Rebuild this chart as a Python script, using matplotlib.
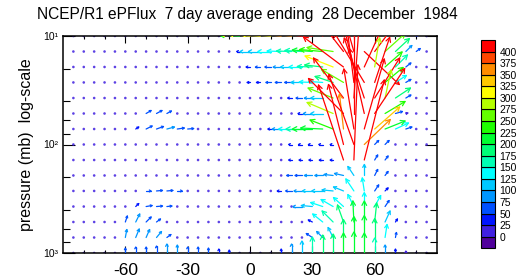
"""EP-flux vectors (NCEP/R1), 7 day mean ending 28 Dec 1984, coloured by magnitude."""
import numpy as np
import matplotlib
matplotlib.use("Agg")
import matplotlib.pyplot as plt
from matplotlib.collections import LineCollection
from matplotlib.colors import ListedColormap, BoundaryNorm
from matplotlib.ticker import FixedLocator, NullFormatter

plt.rcParams["font.family"] = ["Liberation Sans", "DejaVu Sans"]
plt.rcParams["axes.unicode_minus"] = False

# ---- data -----------------------------------------------------------------
lat = [-85, -80, -75, -70, -65, -60, -55, -50, -45, -40, -35, -30, -25, -20,
       -15, -10, -5, 0, 5, 10, 15, 20, 25, 30, 35, 40, 45, 50, 55, 60, 65,
       70, 75, 80, 85]
lev = [10, 13.9, 19.3, 26.8, 37.3, 51.8, 72, 100, 139, 193, 268, 373, 518,
       720, 1000]

# meridional component (+ = northward), one row per level, SH | NH
fy = [
    [0, 0, 0, 0, 0, 0, 0, 0, 0, 0, 0, 0, 0, 0, 0, 0, -200,
     -300, -320, -300, -350, -360, -450, -500, -400, -300, -200, 100, 200, 150, 150, 100, 60, 20, 0],
    [0, 0, 0, 0, 0, 0, 0, 0, 0, 0, 0, 0, 0, 0, 0, 0, -30,
     -100, -120, -130, -140, -150, -170, -200, -230, -260, -350, -200, 350, 300, 200, 140, 60, 40, 10],
    [0, 0, 0, 0, 0, 0, 0, 0, 0, 0, 0, 0, 0, 0, 0, 0, 0,
     -40, -50, -60, -80, -110, -130, -150, -180, -280, -400, -150, 250, 50, 170, 120, 50, 15, 0],
    [0, 0, 0, 0, 0, 0, 0, 0, 0, 0, 0, 0, 0, 0, 0, 0, 0,
     -30, -40, -50, -60, -70, -110, -130, -140, -180, -220, -100, -300, 150, 180, 110, 50, 15, 0],
    [0, 0, 0, 0, 0, 0, 0, 0, 0, 0, 0, 0, 0, 0, 0, 0, 0,
     0, 0, 0, 0, -40, -60, -80, -120, -250, -300, 50, -200, 250, 60, 150, 50, 10, 0],
    [0, 0, 0, 0, 0, 0, 0, 50, 55, 45, 0, 0, 0, 0, 0, 0, 0,
     0, 0, 0, 0, 0, -40, -90, -120, -260, -350, 0, -150, 300, 200, 70, 20, 0, 0],
    [0, 0, 0, 0, 0, 0, 30, 60, 70, 75, 70, 60, 0, 0, 0, 0, 0,
     0, 0, -30, -90, -130, -160, -200, -220, -230, -40, -100, 200, 250, 200, 130, 60, 10, 0],
    [0, 0, 0, 0, 0, 0, 0, 0, 0, 0, 0, 0, 0, 0, 0, 0, 0,
     0, 0, 0, 0, -30, -35, -40, -40, -30, -150, -250, 260, 40, 40, 0, 0, 0, 0],
    [0, 0, 0, 0, 0, 0, 0, 0, 0, 0, 0, 0, 0, 0, 0, 0, 0,
     0, 0, 0, 0, -30, -30, -35, -35, -30, -250, 40, 200, 30, 30, 0, 0, 0, 0],
    [0, 0, 0, 0, 0, 0, 0, 0, 0, 0, 0, 0, 0, 0, 0, 0, 0,
     0, 0, 0, 0, -50, -70, -80, -80, -90, -90, -60, 0, 30, 30, 0, 0, 0, 0],
    [0, 0, 0, 0, 0, 0, 0, 50, 60, 60, 50, 0, 0, 0, 0, 0, 0,
     0, 0, 0, -40, -60, -80, -100, -110, -110, -100, -80, -20, 40, 30, 0, 0, 0, 0],
    [0, 0, 0, 0, 0, 0, 30, 60, 60, 50, 0, 0, 0, 0, 0, 0, 0,
     0, 0, 0, 0, 0, -90, -110, -120, -120, -100, -60, 0, 60, 40, 0, 0, 0, 0],
    [0, 0, 0, 0, 0, 20, 40, 50, 40, 0, 0, 0, 0, 0, 0, 0, 0,
     0, 0, 0, 0, 0, 0, -40, -100, -110, -60, -10, 0, 20, 50, 20, 0, 0, 0],
    [0, 0, 0, 0, 0, 15, 35, 35, 50, 40, 0, 0, 0, 0, 0, 0, 0,
     0, 0, 0, 0, 0, 0, -60, -60, -50, 0, 0, 0, 0, 20, 10, 0, 0, 0],
    [0, 0, 0, 0, 0, 0, 0, 0, 0, 0, 0, 0, 0, 0, 0, 0, 0,
     0, 0, 0, 0, 0, 0, 0, 0, 0, 0, 0, 0, 0, 0, 0, 0, 0, 0],
]

# vertical component (+ = upward)
fz = [
    [0, 0, 0, 0, 0, 0, 0, 0, 0, 0, 0, 0, 0, 0, 0, 0, 10,
     20, 20, 20, 30, 30, 40, 60, 300, 400, 500, 500, 450, 350, 200, 120, 60, 20, 0],
    [0, 0, 0, 0, 0, 0, 0, 0, 0, 0, 0, 0, 0, 0, 0, 0, 0,
     0, 0, 0, 5, 5, 10, 15, 20, 40, 450, 700, -330, 400, 180, 130, 60, 30, 5],
    [0, 0, 0, 0, 0, 0, 0, 0, 0, 0, 0, 0, 0, 0, 0, 0, 0,
     0, 0, 0, 0, 0, 0, 5, 20, 110, 300, 600, 550, 290, 150, 120, 40, 10, 0],
    [0, 0, 0, 0, 0, 0, 0, 0, 0, 0, 0, 0, 0, 0, 0, 0, 0,
     0, 0, 0, 0, 0, 0, 5, 10, 60, 130, 800, 500, 450, 150, 70, 30, 10, 0],
    [0, 0, 0, 0, 0, 0, 0, 0, 0, 0, 0, 0, 0, 0, 0, 0, 0,
     0, 0, 0, 0, 0, 0, 0, 0, 100, 400, 700, 600, 400, 280, 100, 30, 10, 0],
    [0, 0, 0, 0, 0, 0, 0, 30, 30, 25, 0, 0, 0, 0, 0, 0, 0,
     0, 0, 0, 0, 0, 0, 0, 0, 110, 350, 900, 650, 450, 120, 20, 5, 0, 0],
    [0, 0, 0, 0, 0, 0, 20, 30, 25, 20, 10, 5, 0, 0, 0, 0, 0,
     0, 0, 0, 0, 0, 0, 0, 10, 90, 350, 600, 700, 220, 80, 60, 20, 5, 0],
    [0, 0, 0, 0, 0, 0, 0, 0, 0, 0, 0, 0, 0, 0, 0, 0, 0,
     0, 0, 0, 0, 0, 0, 0, 0, 0, 600, 700, 250, 40, 40, 0, 0, 0, 0],
    [0, 0, 0, 0, 0, 0, 0, 0, 0, 0, 0, 0, 0, 0, 0, 0, 0,
     0, 0, 0, 0, 0, 0, 0, 0, 0, 750, 950, 800, 50, 40, 0, 0, 0, 0],
    [0, 0, 0, 0, 0, 0, 0, 0, 0, 0, 0, 0, 0, 0, 0, 0, 0,
     0, 0, 0, 0, 0, 0, 0, 0, 10, 20, 90, 110, 60, 40, 0, 0, 0, 0],
    [0, 0, 0, 0, 0, 0, 0, 0, 5, 5, 0, 0, 0, 0, 0, 0, 0,
     0, 0, 0, 0, 0, 0, 0, 0, 10, 40, 120, 130, 60, 30, 0, 0, 0, 0],
    [0, 0, 0, 0, 0, 0, 30, 10, 5, 5, 0, 0, 0, 0, 0, 0, 0,
     0, 0, 0, 0, 0, 0, 10, 40, 70, 90, 120, 140, 110, 60, 0, 0, 0, 0],
    [0, 0, 0, 0, 0, 60, 80, 50, 30, 0, 0, 0, 0, 0, 0, 0, 0,
     0, 0, 0, 0, 0, 0, 20, 80, 110, 170, 210, 210, 190, 110, 30, 0, 0, 0],
    [0, 0, 0, 0, 0, 80, 85, 80, 60, 30, 0, 0, 0, 0, 0, 0, 0,
     0, 0, 0, 0, 0, 0, 40, 60, 100, 180, 210, 220, 190, 130, 50, 0, 0, 0],
    [0, 0, 0, 0, 0, 50, 60, 60, 70, 90, 80, 60, 60, 50, 40, 30, 0,
     0, 0, 0, 40, 90, 120, 160, 180, 190, 200, 210, 200, 150, 80, 40, 20, 0, 0],
]

levels = [0, 25, 50, 75, 100, 125, 150, 175, 200, 225, 250, 275, 300, 325,
          350, 375, 400]
# one colour per class, from "< 0" up to "> 400"
colors = ["#50009b", "#4020e0", "#0014ff", "#0050ff", "#0096ff", "#00c8ff",
          "#00ffff", "#00ffb4", "#00ff78", "#00ff32", "#1eff00", "#64ff00",
          "#b4ff00", "#ffff00", "#ffc800", "#ff8c00", "#ff4600", "#ff0000"]

xticks = [-60, -30, 0, 30, 60]
xticklabels = ["-60", "-30", "0", "30", "60"]
xminor = [-80, -70, -50, -40, -20, -10, 10, 20, 40, 50, 70, 80]
yticks = [10, 100, 1000]
yticklabels = ["10\u00b9", "10\u00b2", "10\u00b3"]
yminor = [20, 40, 60, 80, 200, 400, 600, 800]

title = "NCEP/R1 ePFlux  7 day average ending  28 December  1984"

UNITS_PER_PX = 10.0   # vector magnitude per pixel of arrow length

assert all(len(r) == len(lat) for r in fy + fz)

# ---- figure ---------------------------------------------------------------
W, H = 530, 280
fig = plt.figure(figsize=(W / 100, H / 100), dpi=100)
ax = fig.add_axes([63 / W, 27 / H, 374 / W, 217 / H])
ax.set_yscale("log")
ax.set_xlim(-90, 90)
ax.set_ylim(1000, 10)

cmap = ListedColormap(colors)
norm = BoundaryNorm(levels, cmap.N, extend="both")

trans = ax.transData
inv = trans.inverted()
segs, seg_cols = [], []
dot_x, dot_y, dot_c = [], [], []
for j, p in enumerate(lev):
    for i, x in enumerate(lat):
        u, v = fy[j][i], fz[j][i]
        mag = float(np.hypot(u, v))
        col = cmap(norm(mag))
        length = mag / UNITS_PER_PX
        if length < 2.0:
            dot_x.append(x)
            dot_y.append(p)
            dot_c.append(col)
            continue
        x0, y0 = trans.transform((x, p))
        x1, y1 = x0 + u / UNITS_PER_PX, y0 + v / UNITS_PER_PX
        head = float(np.clip(0.3 * length, 2.0, 5.0))
        ang = np.arctan2(y1 - y0, x1 - x0)
        barbs = []
        for s in (1, -1):
            a = ang + np.pi + s * np.radians(28)
            barbs.append((x1 + head * np.cos(a), y1 + head * np.sin(a)))
        shaft = inv.transform([(x0, y0), (x1, y1)])
        hd = inv.transform([barbs[0], (x1, y1), barbs[1]])
        segs += [shaft, hd]
        seg_cols += [col, col]

ax.scatter(dot_x, dot_y, s=3.5, c=dot_c, linewidths=0, alpha=0.85, zorder=2)
ax.add_collection(LineCollection(segs, colors=seg_cols, linewidths=0.9,
                                 capstyle="round", joinstyle="round", zorder=3))

ax.xaxis.set_major_locator(FixedLocator(xticks))
ax.set_xticklabels(xticklabels)
ax.xaxis.set_minor_locator(FixedLocator(xminor))
ax.yaxis.set_major_locator(FixedLocator(yticks))
ax.set_yticklabels(yticklabels)
ax.yaxis.set_minor_locator(FixedLocator(yminor))
ax.yaxis.set_minor_formatter(NullFormatter())
ax.tick_params(axis="x", which="major", direction="in", length=5, width=0.8,
               top=True, labelsize=12.5, pad=7)
ax.tick_params(axis="x", which="minor", direction="in", length=2.5,
               width=0.8, top=True)
ax.tick_params(axis="y", which="major", direction="in", length=8.5,
               width=0.8, right=True, labelsize=7.5, pad=3.5)
ax.tick_params(axis="y", which="minor", direction="in", length=5,
               width=0.8, right=True)
for sp in ax.spines.values():
    sp.set_linewidth(1.1)

ax.set_ylabel("pressure (mb)  log-scale", fontsize=11.5)
ax.yaxis.set_label_coords(-0.078, 0.5)

fig.text(247 / W, 1 - 14 / H, title, ha="center", va="center", fontsize=11.2)

# ---- label bar --------------------------------------------------------------
cax = fig.add_axes([480.5 / W, (H - 248.3) / H, 14 / W, 208.3 / H])
nbox = len(colors)
cax.bar(np.zeros(nbox), np.ones(nbox), width=1.0, bottom=np.arange(nbox),
        color=colors, edgecolor="black", linewidth=0.8, clip_on=False)
cax.set_xlim(-0.5, 0.5)
cax.set_ylim(0, nbox)
for sp in cax.spines.values():
    sp.set_visible(False)
cax.set_xticks([])
cax.yaxis.tick_right()
cax.set_yticks(np.arange(1, nbox))
cax.set_yticklabels([str(v) for v in levels])
cax.tick_params(axis="y", length=0, labelsize=7.5, pad=3.5)

fig.savefig("out.png", dpi=100)
